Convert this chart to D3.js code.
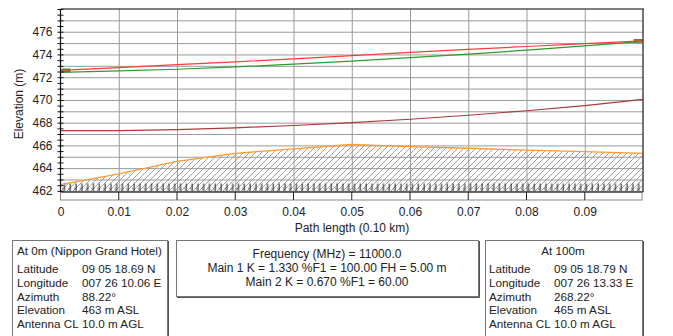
<!DOCTYPE html>
<html>
<head>
<meta charset="utf-8">
<script src="https://cdn.jsdelivr.net/npm/d3@7"></script>
<style>
  body { margin: 0; background: #fff; }
  svg text { font-family: "Liberation Sans", Arial, sans-serif; fill: #222; }
  .axis path { display: none; }
  .grid line { stroke: #9a9a9a; }
  .grid path { display: none; }
</style>
</head>
<body>
<div id="chart"></div>
<script>
// path distance in km (0.10 km path)
var dist = [0, 0.01, 0.02, 0.03, 0.04, 0.05, 0.06, 0.07, 0.08, 0.09, 0.1];
var terrain = [462.55, 463.5, 464.6, 465.3, 465.7, 466.08, 465.9, 465.75, 465.58, 465.45, 465.3];
var main1 = [472.6, 472.85, 473.1, 473.35, 473.62, 473.9, 474.18, 474.45, 474.7, 474.95, 475.2];
var main2 = [472.42, 472.55, 472.7, 472.9, 473.15, 473.42, 473.72, 474.03, 474.38, 474.75, 475.15];
var fresnel = [467.3, 467.3, 467.38, 467.55, 467.75, 468.0, 468.3, 468.65, 469.05, 469.5, 470.05];
var xTicks = [0, 0.01, 0.02, 0.03, 0.04, 0.05, 0.06, 0.07, 0.08, 0.09];
var yLabels = [462, 464, 466, 468, 470, 472, 474, 476];

var site0 = [["Latitude", "09 05 18.69 N"], ["Longitude", "007 26 10.06 E"], ["Azimuth", "88.22°"],
             ["Elevation", "463 m ASL"], ["Antenna CL", "10.0 m AGL"]];
var site1 = [["Latitude", "09 05 18.79 N"], ["Longitude", "007 26 13.33 E"], ["Azimuth", "268.22°"],
             ["Elevation", "465 m ASL"], ["Antenna CL", "10.0 m AGL"]];
var midText = ["Frequency (MHz) = 11000.0", "Main 1 K = 1.330 %F1 = 100.00 FH = 5.00 m", "Main 2 K = 0.670 %F1 = 60.00"];

var W = 673, H = 336;
var pL = 60.5, pR = 643, pT = 9, pB = 192;

var svg = d3.select("#chart").append("svg")
  .attr("width", W).attr("height", H);

var x = d3.scaleLinear().domain([0, 0.1]).range([pL, pR]);
var y = d3.scaleLinear().domain([461.9, 478]).range([pB, pT]);

var defs = svg.append("defs");
var hatch = defs.append("pattern").attr("id", "hatch")
  .attr("patternUnits", "userSpaceOnUse").attr("width", 6).attr("height", 6);
hatch.append("path").attr("d", "M-1,1 l2,-2 M0,6 l6,-6 M5,7 l2,-2")
  .attr("stroke", "#8a8a8a").attr("stroke-width", 0.8);

// ground symbol row along the bottom
var earth = defs.append("pattern").attr("id", "earth")
  .attr("patternUnits", "userSpaceOnUse").attr("width", 5.8).attr("height", 9)
  .attr("x", pL).attr("y", 182.5);
earth.append("path").attr("d", "M4,1 V8.5").attr("stroke", "#111").attr("stroke-width", 1);
earth.append("path").attr("d", "M2,5 L3.5,8.5").attr("stroke", "#666").attr("stroke-width", 0.7);

// grid
svg.append("g").attr("class", "grid")
  .attr("transform", "translate(" + pL + ",0)")
  .call(d3.axisLeft(y).tickValues(d3.range(462, 478, 1)).tickSize(-(pR - pL)).tickFormat(""));
svg.append("g").attr("class", "grid")
  .attr("transform", "translate(0," + pB + ")")
  .call(d3.axisBottom(x).tickValues(xTicks.slice(1)).tickSize(-(pB - pT)).tickFormat(""));

// terrain
var area = d3.area()
  .x(function(d, i) { return x(dist[i]); })
  .y0(pB)
  .y1(function(d) { return y(d); });
svg.append("path").datum(terrain).attr("d", area).attr("fill", "url(#hatch)");
svg.append("rect").attr("x", pL + 1).attr("y", 182.5).attr("width", pR - pL - 2).attr("height", 9)
  .attr("fill", "url(#earth)");

var line = d3.line().x(function(d, i) { return x(dist[i]); }).y(function(d) { return y(d); });

svg.append("path").datum(terrain).attr("d", line)
  .attr("fill", "none").attr("stroke", "#ff9a30").attr("stroke-width", 1.3);
svg.append("path").datum(fresnel).attr("d", line)
  .attr("fill", "none").attr("stroke", "#a83a3a").attr("stroke-width", 1.2);
svg.append("path").datum(main2).attr("d", line)
  .attr("fill", "none").attr("stroke", "#2f9a2f").attr("stroke-width", 1.2);
svg.append("path").datum(main1).attr("d", line)
  .attr("fill", "none").attr("stroke", "#ff3a3a").attr("stroke-width", 1.2);

// antenna markers
[[0, main1[0]], [0.1, main1[10]]].forEach(function(p, i) {
  svg.append("rect")
    .attr("x", i === 0 ? x(p[0]) + 1.5 : x(p[0]) - 9)
    .attr("y", y(p[1]) - 1.5).attr("width", 8).attr("height", 3)
    .attr("fill", "#c8641e").attr("stroke", "#555").attr("stroke-width", 0.6);
});

// frame
svg.append("line").attr("x1", pL).attr("x2", pR + 1).attr("y1", pT).attr("y2", pT)
  .attr("stroke", "#555").attr("stroke-width", 1.5);
svg.append("line").attr("x1", pR).attr("x2", pR).attr("y1", pT).attr("y2", pB)
  .attr("stroke", "#444").attr("stroke-width", 1.5);
svg.append("line").attr("x1", pL).attr("x2", pL).attr("y1", pT).attr("y2", pB)
  .attr("stroke", "#111").attr("stroke-width", 1.2);
svg.append("line").attr("x1", pL).attr("x2", pR).attr("y1", pB).attr("y2", pB)
  .attr("stroke", "#111").attr("stroke-width", 1.5);

// x band under the plot
svg.append("rect").attr("x", pL).attr("y", pB).attr("width", pR - pL - 1).attr("height", 8)
  .attr("fill", "none").attr("stroke", "#888").attr("stroke-width", 1);
svg.append("g").selectAll("line").data(xTicks.slice(1)).join("line")
  .attr("x1", function(d) { return x(d); }).attr("x2", function(d) { return x(d); })
  .attr("y1", pB).attr("y2", pB + 8).attr("stroke", "#222");

// y axis ticks (every 0.5 m) crossing the axis line
var yt = svg.append("g").attr("class", "axis")
  .attr("transform", "translate(" + pL + ",0)")
  .call(d3.axisLeft(y).tickValues(d3.range(462, 478.01, 0.5)).tickSize(3).tickFormat(""));
yt.selectAll("line").attr("x1", 3).attr("stroke", "#111");

var yl = svg.append("g").attr("class", "axis")
  .attr("transform", "translate(" + pL + ",0)")
  .call(d3.axisLeft(y).tickValues(yLabels).tickSize(0).tickPadding(8));
yl.selectAll("text").style("font-size", "12px");

var xl = svg.append("g").attr("class", "axis")
  .attr("transform", "translate(0," + (pB + 8) + ")")
  .call(d3.axisBottom(x).tickValues(xTicks).tickSize(0).tickPadding(7)
    .tickFormat(function(d) { return d === 0 ? "0" : d.toFixed(2); }));
xl.selectAll("text").style("font-size", "12px");

svg.append("text").attr("transform", "translate(23,104) rotate(-90)")
  .attr("text-anchor", "middle").style("font-size", "12px").text("Elevation (m)");
svg.append("text").attr("x", 352).attr("y", 232)
  .attr("text-anchor", "middle").style("font-size", "12px").text("Path length (0.10 km)");

// info boxes
function box(x0, y0, w, h) {
  svg.append("rect").attr("x", x0 + 0.5).attr("y", y0 + 0.5).attr("width", w).attr("height", h)
    .attr("fill", "#fff").attr("stroke", "#777").attr("stroke-width", 1);
  svg.append("path").attr("d", "M" + (x0 + w + 1.5) + "," + (y0 + 1) + " V" + (y0 + h + 1.5) + " H" + (x0 + 1))
    .attr("fill", "none").attr("stroke", "#555").attr("stroke-width", 1);
}
box(12, 240, 155, 110);
box(176, 240, 302, 56);
box(485, 240, 157, 110);

function siteText(x0, xv, cx, title, rows) {
  svg.append("text").attr("x", cx).attr("y", 255).attr("text-anchor", cx === x0 ? "start" : "middle")
    .style("font-size", "11.7px").text(title);
  var g = svg.append("g");
  g.selectAll("text.l").data(rows).join("text").attr("class", "l")
    .attr("x", x0).attr("y", function(d, i) { return 273 + i * 13.8; })
    .style("font-size", "11.7px").text(function(d) { return d[0]; });
  g.selectAll("text.v").data(rows).join("text").attr("class", "v")
    .attr("x", xv).attr("y", function(d, i) { return 273 + i * 13.8; })
    .style("font-size", "11.7px").text(function(d) { return d[1]; });
}
siteText(17, 82, 17, "At 0m (Nippon Grand Hotel)", site0);
siteText(489, 554, 563, "At 100m", site1);

svg.append("g").selectAll("text").data(midText).join("text")
  .attr("x", 327).attr("y", function(d, i) { return 258 + i * 14; })
  .attr("text-anchor", "middle").style("font-size", "12px").text(function(d) { return d; });
</script>
</body>
</html>
